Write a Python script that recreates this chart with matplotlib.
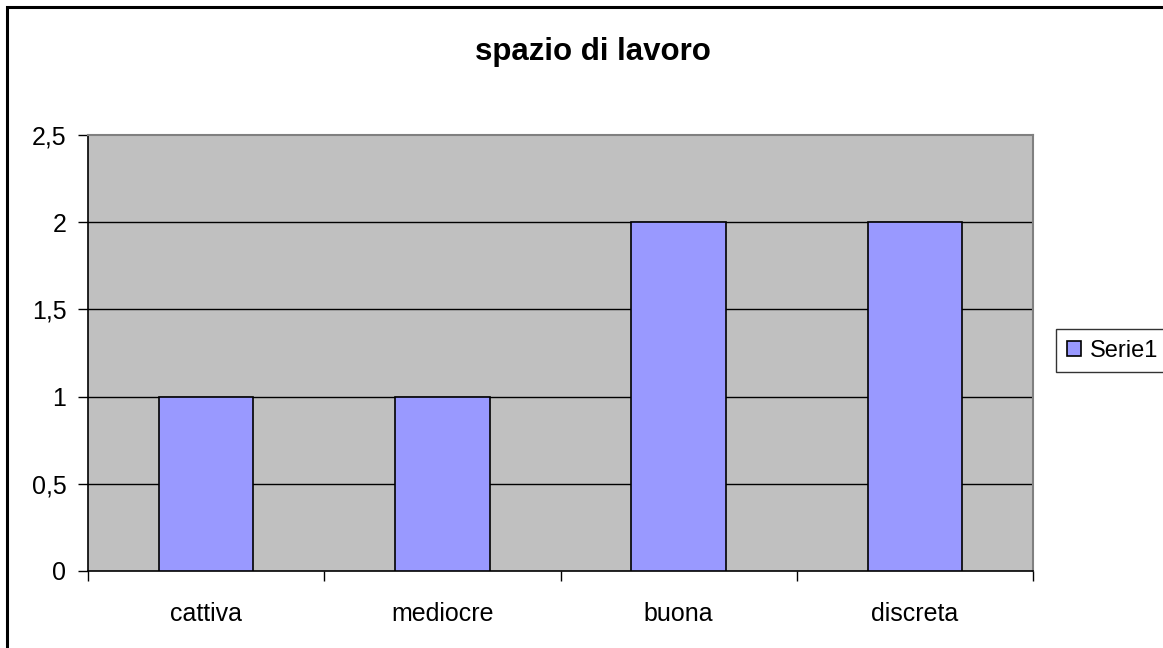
import matplotlib
matplotlib.use("Agg")
import matplotlib.pyplot as plt
from matplotlib.patches import Rectangle
import numpy as np

categories = ["cattiva", "mediocre", "buona", "discreta"]
values = [1, 1, 2, 2]
series_name = "Serie1"
title = "spazio di lavoro"
yticks = [0, 0.5, 1, 1.5, 2, 2.5]
ytick_labels = ["0", "0,5", "1", "1,5", "2", "2,5"]

W, H = 1163, 648
plt.rcParams['font.family'] = ['Liberation Sans', 'DejaVu Sans']
fig = plt.figure(figsize=(W / 100, H / 100), dpi=100)
fig.patch.set_facecolor("white")

# outer chart border (extends beyond right/bottom edges)
fig.patches.append(Rectangle((7 / W, -0.1), 1.2, 1 - 7 / H + 0.1, transform=fig.transFigure,
                             fill=False, edgecolor="black", linewidth=2.2, zorder=0))

ax = fig.add_axes([88 / W, 1 - 571 / H, (1033 - 88) / W, (571 - 135) / H])
ax.set_facecolor("#C0C0C0")

x = np.arange(len(categories))
bars = ax.bar(x, values, width=0.4, color="#9999FF", edgecolor="black", linewidth=1.2,
              zorder=3, label=series_name)

ax.set_xlim(-0.5, len(categories) - 0.5)
ax.set_ylim(0, 2.5)
ax.set_yticks(yticks)
ax.set_yticklabels(ytick_labels)
for yv in yticks[1:-1]:
    ax.axhline(yv, color="black", linewidth=1.0, zorder=1)

ax.set_xticks(x)
ax.set_xticklabels(categories)
ax.set_xticks(np.arange(len(categories) + 1) - 0.5, minor=True)
ax.tick_params(axis="x", which="major", length=0, pad=22.5, labelsize=18)
ax.tick_params(axis="x", which="minor", length=7, width=1, direction="out", color="black")
ax.tick_params(axis="y", length=7, width=1, direction="out", pad=8.5, labelsize=18, color="black")

for side in ["top", "right"]:
    ax.spines[side].set_color("#808080")
    ax.spines[side].set_linewidth(1.5)
for side in ["left", "bottom"]:
    ax.spines[side].set_color("black")
    ax.spines[side].set_linewidth(1.2)

fig.text(593 / W, 1 - 52 / H, title, ha="center", va="center", fontsize=22.5, fontweight="bold")

leg = ax.legend(loc="upper left", bbox_to_anchor=(1056 / W, 1 - 329 / H), bbox_transform=fig.transFigure,
                frameon=True, fancybox=False, fontsize=17, handlelength=0.6, handleheight=0.6,
                handletextpad=0.4, borderpad=0.45, borderaxespad=0)
leg.get_frame().set_edgecolor("black")
leg.get_frame().set_linewidth(1.0)

fig.savefig("out.png", dpi=100)
